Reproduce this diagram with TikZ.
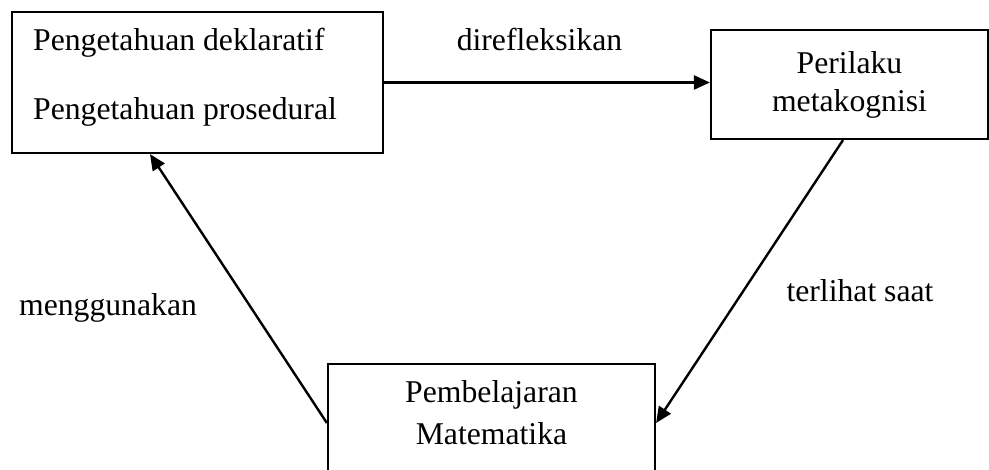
\documentclass[tikz,border=0pt]{standalone}
\usepackage{fontspec}
\setmainfont{Liberation Serif}
\usetikzlibrary{arrows.meta}

\begin{document}
\begin{tikzpicture}[
  x=1pt, y=1pt,
  every node/.style={font=\fontsize{31.7}{38}\selectfont},
  box/.style={rectangle, draw, line width=2.2pt, inner sep=0pt},
  txt/.style={inner sep=0pt},
  arr/.style={-{Triangle[length=16pt,width=14pt]}, line width=2.4pt},
  lbl/.style={inner sep=0pt, anchor=base}
]
\useasboundingbox (0,0) rectangle (989,-470);

% the three boxes
\node[box, minimum width=371pt, minimum height=141pt] (know) at (197.5,-82.5) {};
\node[box, minimum width=277pt, minimum height=109pt, align=center] (meta) at (849.5,-84.5) {Perilaku\\metakognisi};
\node[box, minimum width=327pt, minimum height=118pt] (learn) at (491.5,-423) {};

% texts inside the boxes
\node[txt, anchor=base west] (decl) at (33,-50.7)  {Pengetahuan deklaratif};
\node[txt, anchor=base west] (proc) at (33,-119.3) {Pengetahuan prosedural};
\node[txt, align=center, font=\fontsize{31.7}{42}\selectfont] (math) at (491.5,-413) {Pembelajaran\\Matematika};

% connectors
\draw[arr] (know.east) -- (know.east -| meta.west);
\draw[arr] ([xshift=-6.5pt]meta.south) -- (learn.east);
\draw[arr] (learn.west) -- ([xshift=-47.5pt]know.south);

% labels
\node[lbl] (reflect) at (539.5,-50.7) {direfleksikan};
\node[lbl] (seen)    at (860,-302)    {terlihat saat};
\node[lbl] (use)     at (108,-316)    {menggunakan};

\end{tikzpicture}
\end{document}
